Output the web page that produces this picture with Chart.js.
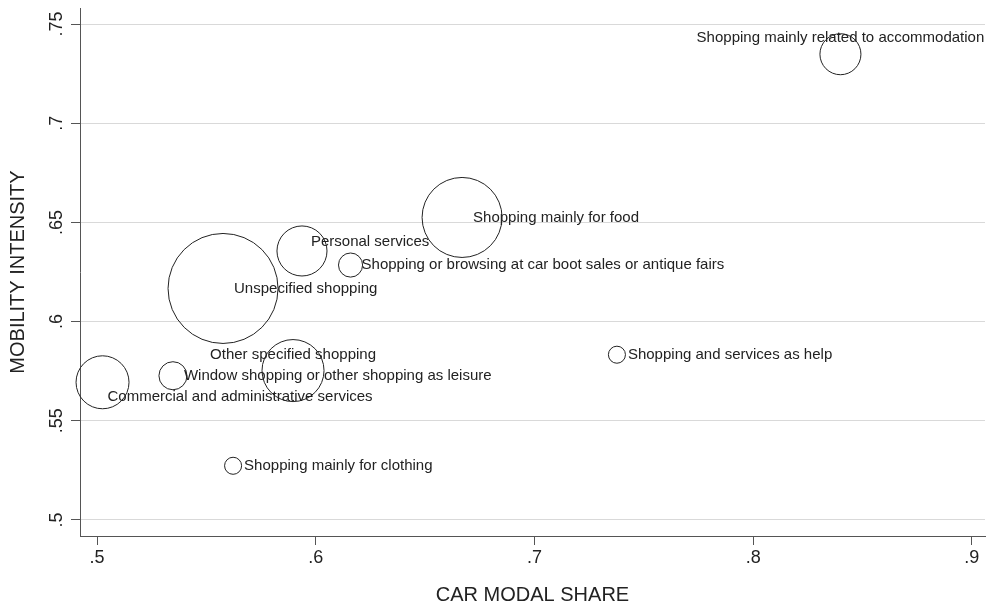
<!DOCTYPE html>
<html><head><meta charset="utf-8">
<script src="https://cdn.jsdelivr.net/npm/chart.js@4/dist/chart.umd.min.js"></script>
<style>html,body{margin:0;padding:0;background:#fff}#wrap{width:988px;height:607px}</style>
</head><body><div id="wrap"><canvas id="c" width="988" height="607"></canvas></div>
<script>
const categories = [
  "Unspecified shopping",
  "Personal services",
  "Shopping or browsing at car boot sales or antique fairs",
  "Shopping mainly for food",
  "Shopping mainly related to accommodation",
  "Shopping and services as help",
  "Shopping mainly for clothing",
  "Other specified shopping",
  "Window shopping or other shopping as leisure",
  "Commercial and administrative services"
];
const carModalShare    = [0.5576, 0.5937, 0.6159, 0.6669, 0.8399, 0.7377, 0.5622, 0.5896, 0.5347, 0.5025];
const mobilityIntensity = [0.6167, 0.6356, 0.6285, 0.6525, 0.7348, 0.5833, 0.5273, 0.5753, 0.5727, 0.5694];
const bubbleWeight     = [100, 20.7, 4.8, 52.9, 13.9, 2.4, 2.4, 31.8, 6.5, 23.2];
const labelClock       = [3, 2, 3, 3, 12, 3, 3, 12, 3, 4];
const xTickValues = [0.5, 0.6, 0.7, 0.8, 0.9];
const yTickValues = [0.5, 0.55, 0.6, 0.65, 0.7, 0.75];

const FONT = '"Liberation Sans", Arial, Helvetica, sans-serif';
const fmt = v => String(Math.round(v * 100) / 100).replace(/^0/, '');

const clockOffsets = {
  3:  {dx: 11, dy: 0,   align: 'left'},
  2:  {dx: 9,  dy: -9,  align: 'left'},
  12: {dx: 0,  dy: -16, align: 'center'},
  4:  {dx: 5,  dy: 15,  align: 'left'}
};

const labelPlugin = {
  id: 'labels',
  afterDatasetsDraw(chart) {
    const ctx = chart.ctx;
    const meta = chart.getDatasetMeta(0);
    ctx.save();
    ctx.fillStyle = '#222';
    ctx.font = '15px ' + FONT;
    ctx.textBaseline = 'middle';
    meta.data.forEach((el, i) => {
      const o = clockOffsets[labelClock[i]];
      ctx.textAlign = o.align;
      ctx.fillText(categories[i], el.x + o.dx, el.y + o.dy);
    });
    // y tick labels, rotated
    const ys = chart.scales.y;
    ctx.font = '18px ' + FONT;
    ctx.textAlign = 'center';
    ctx.textBaseline = 'alphabetic';
    yTickValues.forEach(v => {
      const py = ys.getPixelForValue(v);
      ctx.save();
      ctx.translate(62, py);
      ctx.rotate(-Math.PI / 2);
      ctx.fillText(fmt(v), 0, 0);
      ctx.restore();
    });
    ctx.restore();
  }
};

new Chart(document.getElementById('c'), {
  type: 'bubble',
  data: {
    datasets: [{
      data: categories.map((c, i) => ({x: carModalShare[i], y: mobilityIntensity[i], r: Math.sqrt(bubbleWeight[i]) * 5.5})),
      backgroundColor: 'rgba(0,0,0,0)',
      borderColor: '#222',
      borderWidth: 1,
      hoverBorderWidth: 1,
      hoverRadius: 0,
      clip: false
    }]
  },
  options: {
    responsive: false,
    devicePixelRatio: 1,
    animation: false,
    events: [],
    layout: {autoPadding: false, padding: {top: 8, right: 3, left: 0, bottom: 0}},
    plugins: {legend: {display: false}, tooltip: {enabled: false}},
    scales: {
      x: {
        type: 'linear', min: 0.4922, max: 0.906,
        afterBuildTicks: s => { s.ticks = xTickValues.map(v => ({value: v})); },
        afterFit: s => { s.height = 71; },
        ticks: {callback: v => fmt(v), font: {size: 18, family: FONT}, color: '#222', padding: 2, maxRotation: 0},
        grid: {drawOnChartArea: false, tickLength: 9, tickColor: '#555', tickWidth: 1},
        border: {color: '#555', width: 1},
        title: {display: true, text: 'CAR MODAL SHARE', font: {size: 20, family: FONT}, color: '#222', padding: {top: 0, bottom: 0}}
      },
      y: {
        type: 'linear', min: 0.4919, max: 0.7581,
        afterBuildTicks: s => { s.ticks = yTickValues.map(v => ({value: v})); },
        afterFit: s => { s.width = 80; },
        ticks: {display: false},
        grid: {color: '#d9d9d9', lineWidth: 1, tickLength: 9, tickColor: '#555', tickWidth: 1},
        border: {color: '#555', width: 1},
        title: {display: true, text: 'MOBILITY INTENSITY', font: {size: 20, family: FONT}, color: '#222', padding: {top: 6, bottom: 0}}
      }
    }
  },
  plugins: [labelPlugin]
});
</script></body></html>
